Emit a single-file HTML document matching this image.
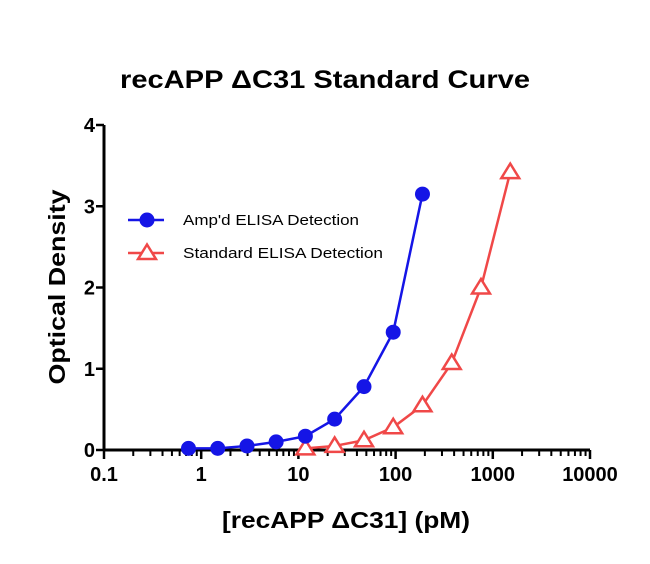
<!DOCTYPE html>
<html><head><meta charset="utf-8"><style>
html,body{margin:0;padding:0;background:#fff}
svg{display:block;font-family:"Liberation Sans",Arial,sans-serif}
</style></head><body>
<svg id="chart" width="650" height="564" viewBox="0 0 650 564">
<text x="325" y="88" text-anchor="middle" font-size="25" font-weight="bold" textLength="410" lengthAdjust="spacingAndGlyphs">recAPP ΔC31 Standard Curve</text>
<text transform="translate(65,287) rotate(-90)" text-anchor="middle" font-size="23" font-weight="bold" textLength="195" lengthAdjust="spacingAndGlyphs">Optical Density</text>
<text x="346" y="528" text-anchor="middle" font-size="23" font-weight="bold" textLength="248" lengthAdjust="spacingAndGlyphs">[recAPP ΔC31] (pM)</text>
<g id="axes"></g>
<g id="series"></g>
<g id="legend"></g>
</svg>
<script>
const ampX=[0.74,1.48,2.96,5.9,11.8,23.6,47.3,94.5,189];
const ampY=[0.02,0.02,0.05,0.1,0.17,0.38,0.78,1.45,3.15];
const stdX=[11.8,23.6,47.3,94.5,189,378,756,1512];
const stdY=[0.02,0.05,0.12,0.28,0.55,1.07,2.0,3.42];
const xTicks=[0.1,1,10,100,1000,10000];
const xTickLabels=["0.1","1","10","100","1000","10000"];
const yTicks=[0,1,2,3,4];
const seriesNames=["Amp'd ELISA Detection","Standard ELISA Detection"];

const X0=104,DEC=97.2,Y0=450,YU=81.25;
function sx(v){return X0+(Math.log10(v)+1)*DEC;}
function sy(v){return Y0-v*YU;}
const NS="http://www.w3.org/2000/svg";
function mk(tag,attrs,parent){const e=document.createElementNS(NS,tag);for(const k in attrs)e.setAttribute(k,attrs[k]);parent.appendChild(e);return e;}
const axes=document.getElementById('axes');
let e;
e=mk('line',{x1:X0,y1:Y0,x2:sx(10000),y2:Y0,stroke:'#000','stroke-width':3},axes);


e=mk('line',{x1:X0,y1:Y0+1,x2:X0,y2:sy(4),stroke:'#000','stroke-width':3},axes);


xTicks.forEach((t,i)=>{
  const x=sx(t);
  e=mk('line',{x1:x,y1:Y0,x2:x,y2:Y0+9,stroke:'#000','stroke-width':2.5},axes);
  
  
  e=mk('text',{x:x,y:Y0+31,'text-anchor':'middle','font-size':20,'font-weight':'bold'},axes);
  e.textContent=xTickLabels[i];
  
  
  if(i<xTicks.length-1){for(let m=2;m<=9;m++){const xm=sx(t*m);
    e=mk('line',{x1:xm,y1:Y0,x2:xm,y2:Y0+6,stroke:'#000','stroke-width':2},axes);
    
    }}
});
yTicks.forEach(t=>{
  const y=sy(t);
  e=mk('line',{x1:X0-8,y1:y,x2:X0,y2:y,stroke:'#000','stroke-width':2.5},axes);
  
  
  e=mk('text',{x:X0-9,y:y+7,'text-anchor':'end','font-size':20,'font-weight':'bold'},axes);
  e.textContent=t;
  
  
});
const ser=document.getElementById('series');
function tri(x,y,s){return `${x},${y-s} ${x-s*1.05},${y+s*0.7} ${x+s*1.05},${y+s*0.7}`;}
e=mk('polyline',{points:stdX.map((v,i)=>sx(v)+','+sy(stdY[i])).join(' '),fill:'none',stroke:'#f04848','stroke-width':2.5},ser);


stdX.forEach((v,i)=>{
  e=mk('polygon',{points:tri(sx(v),sy(stdY[i]),8.5),fill:'#fff',stroke:'#f04848','stroke-width':2.5},ser);
  
  
});
e=mk('polyline',{points:ampX.map((v,i)=>sx(v)+','+sy(ampY[i])).join(' '),fill:'none',stroke:'#1515e6','stroke-width':2.5},ser);


ampX.forEach((v,i)=>{
  e=mk('circle',{cx:sx(v),cy:sy(ampY[i]),r:7.5,fill:'#1515e6'},ser);
  
  
});
const lg=document.getElementById('legend');
[[220,'#1515e6',0,176],[253,'#f04848',1,200]].forEach(([y,c,i,w])=>{
  e=mk('line',{x1:128,y1:y,x2:164,y2:y,stroke:c,'stroke-width':2.5},lg);
  
  
  if(i===0){e=mk('circle',{cx:147,cy:y,r:7.5,fill:c},lg);}
  else{e=mk('polygon',{points:tri(147,y,8.5),fill:'#fff',stroke:c,'stroke-width':2.5},lg);}
  
  
  e=mk('text',{x:183,y:y+5,'font-size':15,textLength:w,lengthAdjust:'spacingAndGlyphs'},lg);
  e.textContent=seriesNames[i];
  
  
});
</script>
</body></html>
